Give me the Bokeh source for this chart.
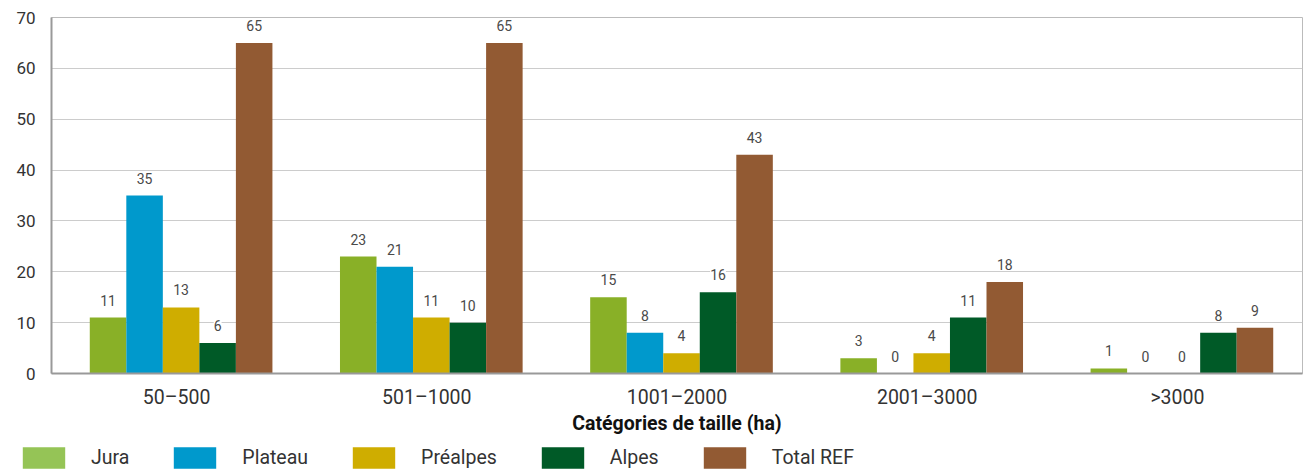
from bokeh.plotting import figure
from bokeh.models import ColumnDataSource, LabelSet, Legend, LegendItem, FactorRange, Range1d, SingleIntervalTicker
from bokeh.core.properties import value
from bokeh.transform import dodge
from bokeh.embed import file_html
from bokeh.resources import INLINE

categories = ["50–500", "501–1000", "1001–2000", "2001–3000", ">3000"]
series_names = ["Jura", "Plateau", "Préalpes", "Alpes", "Total REF"]
jura = [11, 23, 15, 3, 1]
plateau = [35, 21, 8, 0, 0]
prealpes = [13, 11, 4, 4, 0]
alpes = [6, 10, 16, 11, 8]
total_ref = [65, 65, 43, 18, 9]
values = [jura, plateau, prealpes, alpes, total_ref]

bar_colors = ["#89b027", "#0099cc", "#cfad00", "#005a27", "#925a33"]
legend_colors = ["#95c456", "#0099cc", "#cfad00", "#005a27", "#925a33"]

FONT = "Roboto"

p = figure(x_range=FactorRange(*categories), y_range=Range1d(0, 70),
           width=1304, height=440, output_backend="svg", toolbar_location=None,
           min_border_left=51, min_border_right=2, min_border_top=17, min_border_bottom=67)

bw = 0.146
shift = 0.018
for k, (name, vals) in enumerate(zip(series_names, values)):
    src = ColumnDataSource(dict(cat=categories, val=vals, txt=[str(v) for v in vals]))
    off = shift + (k - 2) * bw
    p.vbar(x=dodge("cat", off, range=p.x_range), top="val", width=bw, source=src,
           fill_color=bar_colors[k], line_color=None)
    labels = LabelSet(x=dodge("cat", off, range=p.x_range), y="val", text="txt", source=src,
                      y_offset=12, text_align="center", text_baseline="bottom",
                      text_font=value(FONT), text_font_size=value("14px"), text_color="#4a4a4a",
                      background_fill_color="white", background_fill_alpha=1.0)
    p.add_layout(labels)

p.xaxis.axis_label = "Catégories de taille (ha)"
p.xaxis.axis_label_text_font = FONT
p.xaxis.axis_label_text_font_style = "bold"
p.xaxis.axis_label_text_font_size = "19.5px"
p.xaxis.axis_label_text_color = "#111111"
p.xaxis.axis_label_standoff = 0
p.xaxis.major_label_text_font = FONT
p.xaxis.major_label_text_font_size = "19.5px"
p.xaxis.major_label_text_color = "#333333"
p.xaxis.major_label_standoff = 6
p.xaxis.major_tick_line_color = None
p.xaxis.minor_tick_line_color = None
p.xaxis.axis_line_color = "#999999"
p.xaxis.axis_line_width = 2

p.yaxis.ticker = SingleIntervalTicker(interval=10)
p.yaxis.major_label_text_font = FONT
p.yaxis.major_label_text_font_size = "17px"
p.yaxis.major_label_text_color = "#333333"
p.yaxis.major_label_standoff = 10
p.yaxis.major_tick_line_color = None
p.yaxis.minor_tick_line_color = None
p.yaxis.axis_line_color = "#999999"
p.yaxis.axis_line_width = 2

p.xgrid.grid_line_color = None
p.ygrid.grid_line_color = "#cccccc"
p.ygrid.grid_line_width = 1
p.outline_line_color = "#bbbbbb"
p.background_fill_color = "white"
p.border_fill_color = "white"

# legend strip (dummy zero-height bars only provide the legend swatches)
lg = figure(width=1304, height=31, x_range=Range1d(0, 1), y_range=Range1d(0, 1),
            x_axis_location=None, y_axis_location=None,
            output_backend="svg", toolbar_location=None,
            min_border=0, min_border_left=0, min_border_right=0, min_border_top=0, min_border_bottom=0)
lg.grid.visible = False
lg.outline_line_color = None
renderers = []
for k in range(len(series_names)):
    dummy = ColumnDataSource(dict(x=[-1.0], top=[0.0]))
    renderers.append(lg.vbar(x="x", top="top", width=0.01, source=dummy,
                             fill_color=legend_colors[k], line_color=None))
legend = Legend(items=[LegendItem(label=n, renderers=[r]) for n, r in zip(series_names, renderers)],
                orientation="horizontal", location=(17, 0),
                glyph_width=53, glyph_height=27, label_standoff=21, spacing=39,
                padding=0, margin=0, border_line_color=None, background_fill_alpha=0,
                label_text_font=FONT, label_text_font_size="19.5px", label_text_color="#333333")
lg.add_layout(legend, "center")

open("out.html", "w").write(file_html([p, lg], INLINE))
